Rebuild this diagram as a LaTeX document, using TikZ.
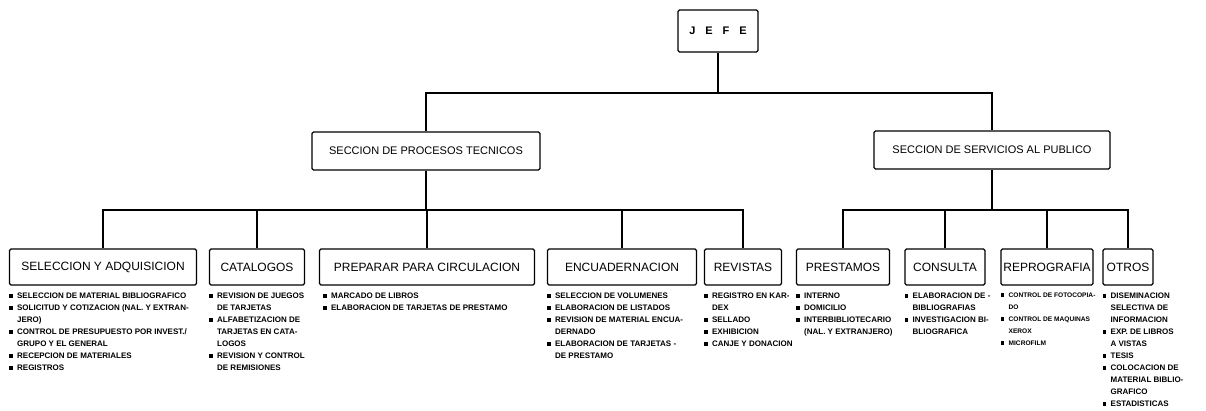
\documentclass[tikz,border=0pt]{standalone}
\usepackage{fontspec}
\setmainfont{Liberation Sans}
\usetikzlibrary{calc}

\tikzset{
  unit/.style={draw, line width=1.1pt, rounded corners=1.5pt, minimum height=36pt, inner sep=2pt,
               font=\fontsize{12}{14}\selectfont},
  seccion/.style={unit, minimum height=38pt, font=\fontsize{11}{13}\selectfont},
  duties/.style={anchor=north west, align=left, inner sep=0pt,
                 font=\bfseries\fontsize{8}{12}\selectfont},
  link/.style={line width=2pt}
}
\newcommand{\bul}{\makebox[8pt][l]{\rule[0.5pt]{3.4pt}{3.4pt}}}
\newcommand{\cont}{\hspace*{8pt}}

\begin{document}
\begin{tikzpicture}[x=1pt,y=-1pt]
\useasboundingbox (0,0) rectangle (1206,410);
% jefe y secciones
\node[unit, minimum width=80pt, minimum height=42pt, font=\bfseries\fontsize{11}{13}\selectfont] (jefe) at (718,31) {J\hspace{10pt}E\hspace{10pt}F\hspace{10pt}E};
\node[seccion, minimum width=228pt] (procesos) at (426,151) {SECCION DE PROCESOS TECNICOS};
\node[seccion, minimum width=236pt] (servicios) at (992,150) {SECCION DE SERVICIOS AL PUBLICO};
\coordinate (top) at (718,93);
\draw[link] (procesos.north) |- (top) -| (servicios.north);
\draw[link] (jefe.south) -- (jefe.south |- top);
% unidades
\foreach \name/\x/\w/\label in {sel/103/187/SELECCION Y ADQUISICION, cat/257/95/CATALOGOS,
    prep/427/215/PREPARAR PARA CIRCULACION, enc/622/149/ENCUADERNACION, rev/743/77/REVISTAS,
    pre/843/93/PRESTAMOS, con/945/80/CONSULTA, rep/1047/92/REPROGRAFIA, otr/1128/50/OTROS}
  \node[unit, minimum width=\w pt] (\name) at (\x,267) {\label};
\coordinate (pbar) at (426,210);
\coordinate (sbar) at (servicios.south |- pbar);
\draw[link] (procesos.south) -- (pbar);
\draw[link] (sel.north) |- (pbar) -| (rev.north);
\foreach \n in {cat,prep,enc} \draw[link] (\n.north) -- (\n.north |- pbar);
\draw[link] (servicios.south) -- (sbar);
\draw[link] (pre.north) |- (sbar) -| (otr.north);
\foreach \n in {con,rep} \draw[link] (\n.north) -- (\n.north |- sbar);
% funciones
\node[duties] (seld) at ([yshift=-7pt]sel.south west) {\bul SELECCION DE MATERIAL BIBLIOGRAFICO\\ \bul SOLICITUD Y COTIZACION (NAL. Y EXTRAN-\\ \cont JERO)\\ \bul CONTROL DE PRESUPUESTO POR INVEST./\\ \cont GRUPO Y EL GENERAL\\ \bul RECEPCION DE MATERIALES\\ \bul REGISTROS};
\node[duties] (catd) at ([yshift=-7pt]cat.south west) {\bul REVISION DE JUEGOS\\ \cont DE TARJETAS\\ \bul ALFABETIZACION DE\\ \cont TARJETAS EN CATA-\\ \cont LOGOS\\ \bul REVISION Y CONTROL\\ \cont DE REMISIONES};
\node[duties] (prepd) at ([xshift=4pt,yshift=-7pt]prep.south west) {\bul MARCADO DE LIBROS\\ \bul ELABORACION DE TARJETAS DE PRESTAMO};
\node[duties] (encd) at ([yshift=-7pt]enc.south west) {\bul SELECCION DE VOLUMENES\\ \bul ELABORACION DE LISTADOS\\ \bul REVISION DE MATERIAL ENCUA-\\ \cont DERNADO\\ \bul ELABORACION DE TARJETAS -\\ \cont DE PRESTAMO};
\node[duties] (revd) at ([yshift=-7pt]rev.south west) {\bul REGISTRO EN KAR-\\ \cont DEX\\ \bul SELLADO\\ \bul EXHIBICION\\ \bul CANJE Y DONACION};
\node[duties] (pred) at ([yshift=-7pt]pre.south west) {\bul INTERNO\\ \bul DOMICILIO\\ \bul INTERBIBLIOTECARIO\\ \cont (NAL. Y EXTRANJERO)};
\node[duties] (cond) at ([yshift=-7pt]con.south west) {\bul ELABORACION DE -\\ \cont BIBLIOGRAFIAS\\ \bul INVESTIGACION BI-\\ \cont BLIOGRAFICA};
\node[duties, font=\bfseries\fontsize{6.6}{12}\selectfont] (repd) at ([yshift=-7pt]rep.south west) {\bul CONTROL DE FOTOCOPIA-\\ \cont DO\\ \bul CONTROL DE MAQUINAS\\ \cont XEROX\\ \bul MICROFILM};
\node[duties] (otrd) at ([yshift=-7pt]otr.south west) {\bul DISEMINACION\\ \cont SELECTIVA DE\\ \cont INFORMACION\\ \bul EXP. DE LIBROS\\ \cont A VISTAS\\ \bul TESIS\\ \bul COLOCACION DE\\ \cont MATERIAL BIBLIO-\\ \cont GRAFICO\\ \bul ESTADISTICAS};
\end{tikzpicture}
\end{document}
